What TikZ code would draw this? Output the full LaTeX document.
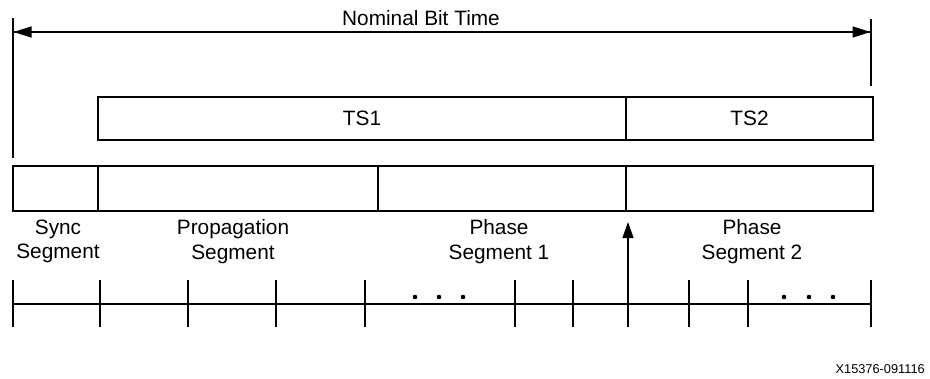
\documentclass[tikz,border=0pt]{standalone}
\usepackage{fontspec}
\setmainfont{Liberation Sans}
\usetikzlibrary{arrows.meta}
\begin{document}
\begin{tikzpicture}[x=1pt,y=-1pt,
  boxrow/.style={draw, line width=2.6pt, inner sep=0pt, outer sep=0pt, anchor=north west},
  lbl/.style={font=\fontsize{20.8}{24.5}\selectfont, align=center, inner sep=0pt},
  thin/.style={line width=1.4pt},
  tip/.style={-{Triangle[length=18pt,width=11pt]}},
  uptip/.style={-{Triangle[length=16pt,width=11pt]}},
  dot/.style={circle, fill=black, inner sep=0pt, minimum size=4.6pt}]
\useasboundingbox (0,0) rectangle (930,378);
% title and dimension arrow
\coordinate (lt) at (13,18);
\coordinate (lb) at (13,158);
\coordinate (rt) at (871,19);
\coordinate (rb) at (871,86);
\draw[thin] (lt) -- (lb);
\draw[thin] (rt) -- (rb);
\coordinate (al) at (13.5,32);
\coordinate (ar) at (870.5,32);
\draw[thin, tip] (al) -- (ar);
\draw[thin, tip] (ar) -- (al);
\node[lbl, anchor=base] (title) at (421,25) {Nominal Bit Time};
% TS boxes
\node[boxrow, minimum width=528pt, minimum height=43pt, font=\fontsize{20.8}{24}\selectfont] (ts1) at (98,97) {TS1};
\node[boxrow, minimum width=247pt, minimum height=43pt, font=\fontsize{20.8}{24}\selectfont] (ts2) at (626,97) {TS2};
% segment boxes
\node[boxrow, minimum width=85pt, minimum height=45pt] (s1) at (13,166) {};
\node[boxrow, minimum width=280pt, minimum height=45pt] (s2) at (98,166) {};
\node[boxrow, minimum width=248pt, minimum height=45pt] (s3) at (378,166) {};
\node[boxrow, minimum width=247pt, minimum height=45pt] (s4) at (626,166) {};
% labels
\node[lbl, anchor=north] (l1) at (58,219.5) {Sync\\Segment};
\node[lbl, anchor=north] (l2) at (233,219.5) {Propagation\\Segment};
\node[lbl, anchor=north] (l3) at (499,219.5) {Phase\\Segment 1};
\node[lbl, anchor=north] (l4) at (752,219.5) {Phase\\Segment 2};
% time quanta line
\coordinate (hl) at (13,304);
\coordinate (hr) at (871,304);
\draw[thin] (hl) -- (hr);
\foreach \x [count=\i] in {13,100,188,276,365,515,573,689,748,871}{
  \coordinate (tt\i) at (\x,280);
  \coordinate (tb\i) at (\x,327);
  \draw[thin] (tt\i) -- (tb\i);
}
% sample point arrow
\coordinate (sb) at (628,327);
\coordinate (st) at (628,222);
\draw[thin, uptip] (sb) -- (st);
% dots
\node[dot] (d1) at (415,297) {};
\node[dot] (d2) at (439,297) {};
\node[dot] (d3) at (463,297) {};
\node[dot] (d4) at (784,297) {};
\node[dot] (d5) at (809,297) {};
\node[dot] (d6) at (833,297) {};
% figure id
\node[font=\fontsize{12.8}{14}\selectfont, anchor=base east, inner sep=0pt] (fid) at (925,373) {X15376-091116};
\end{tikzpicture}
\end{document}
